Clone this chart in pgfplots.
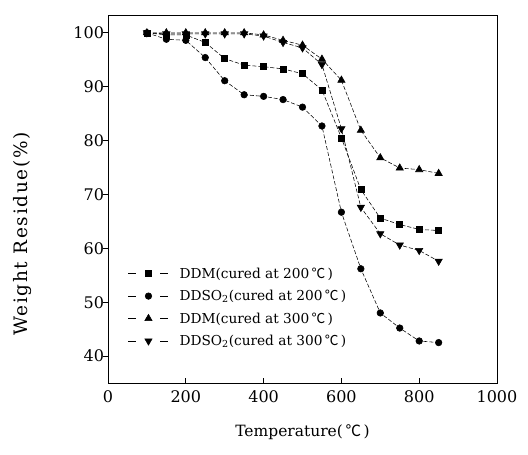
\documentclass[border=0pt]{standalone}
\usepackage{fontspec}
\setmainfont{DejaVu Serif}
\newfontfamily\cjk{Noto Sans CJK SC}
\usepackage{pgfplots}
\pgfplotsset{compat=1.18}
\newcommand{\degC}{{\cjk ℃}}
\begin{document}
\begin{tikzpicture}
\path[use as bounding box] (-108bp,-72bp) rectangle (420bp,383bp);
\begin{axis}[
  at={(0,0)}, anchor=south west,
  scale only axis, width=389bp, height=368bp,
  xmin=0, xmax=1000, ymin=35, ymax=103.3,
  xtick={0,200,...,1000}, ytick={40,50,...,100},
  xtick pos=bottom, ytick pos=left,
  tick align=inside, major tick length=4.5bp,
  ytick style={xshift=-4.5bp},
  every tick/.style={black, line width=0.6bp},
  axis line style={line width=0.8bp},
  /pgf/number format/assume math mode=true,
  /pgf/number format/1000 sep={},
  tick label style={font=\fontsize{16bp}{19bp}\selectfont},
  yticklabel style={xshift=-0.5bp},
  xticklabel style={yshift=-4bp},
  xlabel={Temperature(\,\degC\,)},
  ylabel={\addfontfeatures{LetterSpace=9}Weight Residue(\%)},
  xlabel style={font=\fontsize{15.5bp}{18bp}\selectfont, at={(axis description cs:0.5,-0.134)}, anchor=center},
  ylabel style={font=\fontsize{18.5bp}{21bp}\selectfont, at={(axis description cs:-0.221,0.405)}, anchor=center, rotate=0},
  legend style={draw=none, fill=none, at={(20bp,117.5bp)}, anchor=north west,
    font=\fontsize{13.7bp}{16bp}\selectfont, row sep=6.5bp, inner sep=0pt,
    cells={anchor=west}},
  legend image code/.code={
    \draw[#1,solid] (0bp,0bp) -- (8bp,0bp);
    \draw[#1,solid] (32bp,0bp) -- (40bp,0bp);
    \draw[#1,only marks] plot coordinates {(20bp,0bp)};
    \path[draw=none] (49bp,0bp) circle (0.1bp);
  },
  every axis plot/.append style={black, line width=0.55bp, dash pattern=on 4bp off 2bp},
]
\addplot[mark=square*, mark size=3bp, mark options={solid}] coordinates {
(100,100) (150,99.6) (200,99.6) (250,98.2) (300,95.2) (350,94.0) (400,93.7) (450,93.3)
(500,92.4) (550,89.4) (600,80.5) (650,70.9) (700,65.6) (750,64.4) (800,63.5) (850,63.3)};
\addlegendentry{DDM(cured at 200\,\degC\,)}
\addplot[mark=*, mark size=3.3bp, mark options={solid}] coordinates {
(100,100) (150,98.8) (200,98.6) (250,95.4) (300,91.1) (350,88.5) (400,88.2) (450,87.6)
(500,86.2) (550,82.7) (600,66.7) (650,56.2) (700,48.0) (750,45.2) (800,42.8) (850,42.5)};
\addlegendentry{DDSO\textsubscript{2}(cured at 200\,\degC\,)}
\addplot[mark=triangle*, mark size=4.2bp, mark options={solid}] coordinates {
(100,100) (150,100) (200,100) (250,100) (300,100) (350,100) (400,99.6) (450,98.6)
(500,97.7) (550,95.1) (600,91.2) (650,81.9) (700,76.8) (750,74.9) (800,74.6) (850,73.9)};
\addlegendentry{DDM(cured at 300\,\degC\,)}
\addplot[mark=triangle*, mark size=4.2bp, mark options={solid, rotate=180}] coordinates {
(100,100) (150,99.8) (200,99.8) (250,99.8) (300,99.8) (350,99.8) (400,99.4) (450,98.2)
(500,97.2) (550,94.1) (600,82.2) (650,67.6) (700,62.7) (750,60.6) (800,59.6) (850,57.6)};
\addlegendentry{DDSO\textsubscript{2}(cured at 300\,\degC\,)}
\end{axis}
\end{tikzpicture}
\end{document}
